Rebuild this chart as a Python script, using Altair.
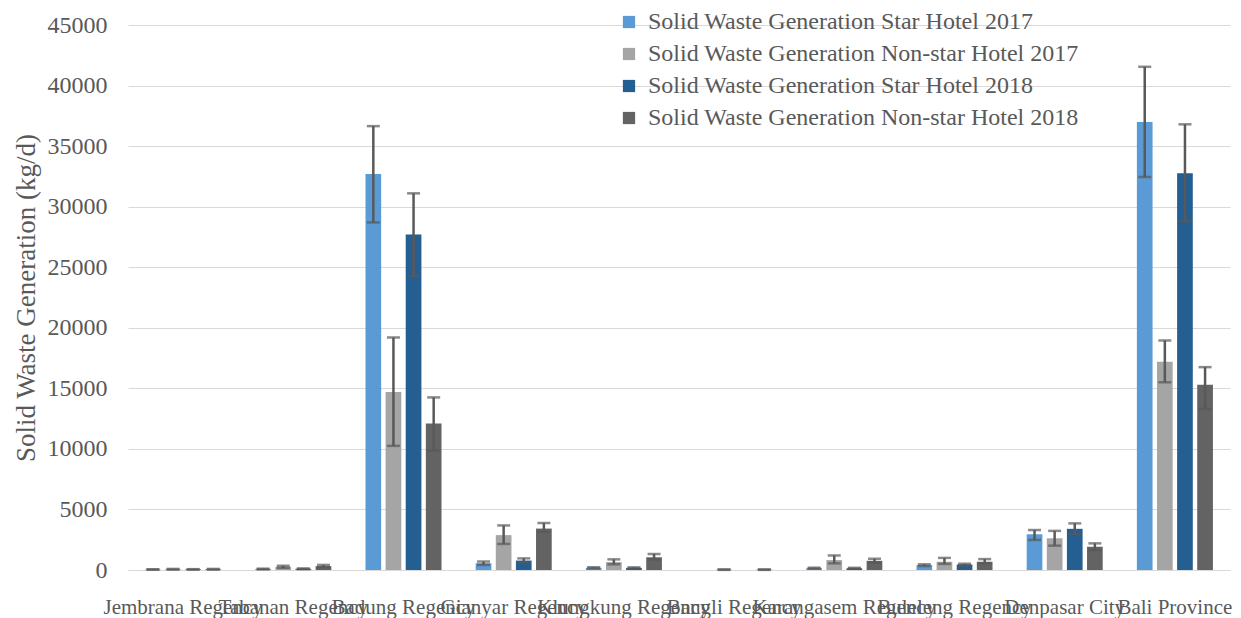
import altair as alt
import pandas as pd

regions = ["Jembrana Regency", "Tabanan Regency", "Badung Regency", "Gianyar Regency",
           "Klungkung Regency", "Bangli Regency", "Karangasem Regency", "Buleleng Regency",
           "Denpasar City", "Bali Province"]
series = ["Solid Waste Generation Star Hotel 2017", "Solid Waste Generation Non-star Hotel 2017",
          "Solid Waste Generation Star Hotel 2018", "Solid Waste Generation Non-star Hotel 2018"]

star17 = [40, 80, 32700, 560, 180, 0, 150, 400, 2950, 37000]
star17_lo = [20, 50, 28700, 420, 130, 0, 110, 330, 2480, 32450]
star17_hi = [60, 110, 36650, 700, 230, 0, 190, 470, 3300, 41550]

nonstar17 = [60, 260, 14700, 2880, 650, 30, 820, 680, 2620, 17200]
nonstar17_lo = [30, 170, 10250, 2150, 470, 10, 550, 500, 2010, 15500]
nonstar17_hi = [90, 350, 19200, 3680, 880, 50, 1200, 1000, 3230, 18950]

star18 = [50, 100, 27700, 780, 170, 0, 140, 450, 3400, 32750]
star18_lo = [30, 70, 24250, 620, 120, 0, 100, 380, 2970, 28800]
star18_hi = [70, 130, 31100, 960, 220, 0, 180, 520, 3850, 36800]

nonstar18 = [60, 320, 12100, 3420, 1050, 30, 760, 680, 1920, 15300]
nonstar18_lo = [30, 220, 9850, 3150, 870, 10, 600, 550, 1650, 13300]
nonstar18_hi = [90, 420, 14250, 3880, 1320, 50, 930, 900, 2200, 16750]

colors = ["#5B9BD5", "#A5A5A5", "#255E91", "#636363"]

rows = []
for s, vals, lo, hi in zip(series,
                            [star17, nonstar17, star18, nonstar18],
                            [star17_lo, nonstar17_lo, star18_lo, nonstar18_lo],
                            [star17_hi, nonstar17_hi, star18_hi, nonstar18_hi]):
    for r, v, l, h in zip(regions, vals, lo, hi):
        rows.append({"region": r, "series": s, "value": v, "lo": l, "hi": h})
df = pd.DataFrame(rows)
df_err = df[df["value"] > 0]

FONT = "Liberation Serif"
TXT = "#595959"

x_enc = alt.X("region:N", sort=regions,
              scale=alt.Scale(paddingInner=0.31, paddingOuter=0.155),
              axis=alt.Axis(title=None, labelAngle=0, labelOverlap=False, labelLimit=400,
                            labelFontSize=21, labelPadding=26, ticks=False,
                            domainColor="#D9D9D9", domainWidth=1))
xoff = alt.XOffset("series:N", sort=series,
                   scale=alt.Scale(domain=series, paddingInner=0.22, paddingOuter=0))
y_axis = alt.Axis(title="Solid Waste Generation (kg/d)", values=list(range(0, 45001, 5000)),
                  format="d", labelFontSize=24, titleFontSize=27,
                  titleFontWeight="normal", titlePadding=7, labelPadding=21,
                  ticks=False, domain=False, gridColor="#D9D9D9", gridWidth=1)

bars = alt.Chart(df).mark_bar().encode(
    x=x_enc,
    xOffset=xoff,
    y=alt.Y("value:Q", scale=alt.Scale(domain=[0, 45000], nice=False), axis=y_axis),
    color=alt.Color("series:N", sort=series,
                    scale=alt.Scale(domain=series, range=colors),
                    legend=alt.Legend(title=None, orient="none", legendX=489, legendY=-15,
                                      labelFontSize=24, symbolType="square", symbolSize=150,
                                      symbolStrokeWidth=0, rowPadding=8, labelLimit=600,
                                      labelOffset=7)),
)

err = alt.Chart(df_err).mark_rule(color="#595959", strokeWidth=2.5).encode(
    x=alt.X("region:N", sort=regions), xOffset=xoff,
    y=alt.Y("lo:Q", axis=y_axis), y2="hi:Q")
cap_lo = alt.Chart(df_err).mark_tick(color="#595959", thickness=2.5, size=13).encode(
    x=alt.X("region:N", sort=regions), xOffset=xoff, y=alt.Y("lo:Q", axis=y_axis))
cap_hi = alt.Chart(df_err).mark_tick(color="#595959", thickness=2.5, size=13).encode(
    x=alt.X("region:N", sort=regions), xOffset=xoff, y=alt.Y("hi:Q", axis=y_axis))

chart = alt.layer(bars, err, cap_lo, cap_hi).properties(
    width=1102, height=545,
    autosize=alt.AutoSizeParams(type="none"),
    padding={"left": 120, "top": 17, "right": 3, "bottom": 48},
).configure(background="white", font=FONT).configure_view(stroke=None).configure_axis(
    labelFont=FONT, titleFont=FONT, labelColor=TXT, titleColor=TXT
).configure_legend(labelFont=FONT, labelColor=TXT)

chart.save("out.html", embed_options={"renderer": "svg", "actions": False})
